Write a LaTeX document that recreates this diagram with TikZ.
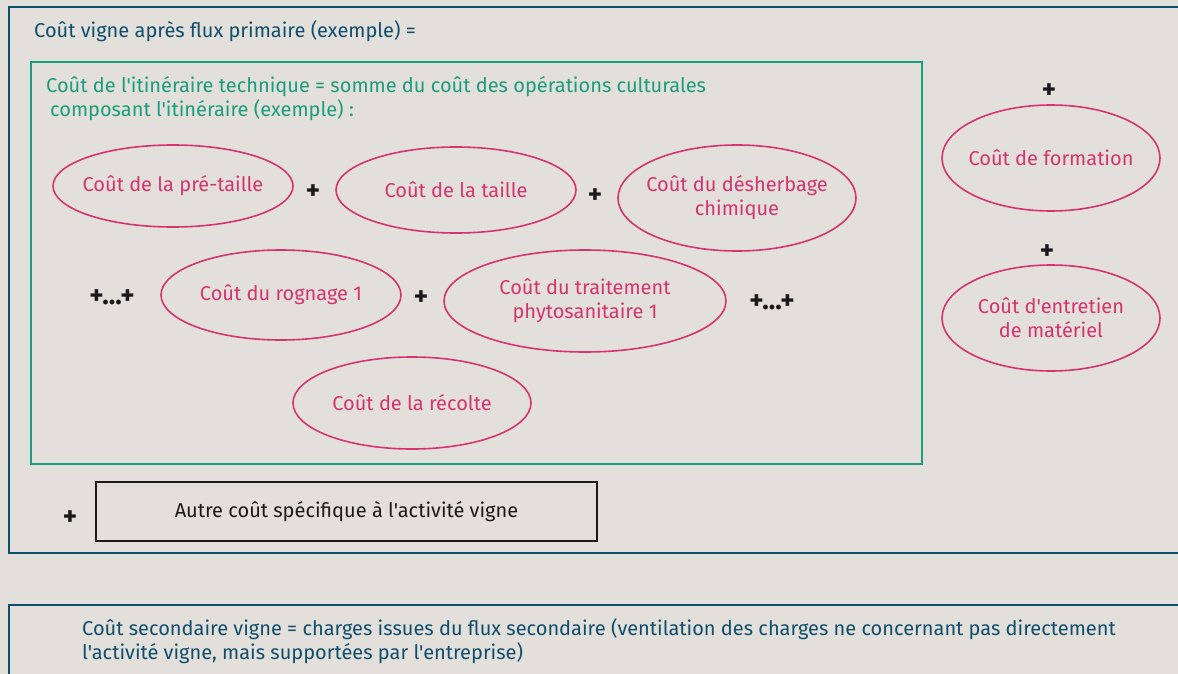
\documentclass[tikz,border=0pt]{standalone}
\usepackage{fontspec}
\setmainfont{Fira Sans}[Ligatures=TeXOff]
\usetikzlibrary{shapes.geometric}
\definecolor{bgc}{RGB}{227,223,218}
\definecolor{dblue}{RGB}{16,78,110}
\definecolor{vgreen}{RGB}{26,158,126}
\definecolor{mag}{RGB}{214,52,112}
\definecolor{ink}{RGB}{26,26,26}
\tikzset{
  cost/.style={ellipse, draw=mag, line width=1.6pt, text=mag, inner xsep=-40pt, inner ysep=-10pt, align=center},
  plus/.style={text=ink, font=\fontsize{27}{30}\selectfont\bfseries, inner sep=0pt},
  frameline/.style={draw=dblue, line width=2pt},
}
\begin{document}
\begin{tikzpicture}[x=1pt,y=-1pt, font=\fontsize{20}{24}\selectfont]
\useasboundingbox[fill=bgc] (0,0) rectangle (1178,674);
% top frame
\draw[frameline] (1178,7) -- (9,7) -- (9,553) -- (1178,553);
\node[anchor=base west, text=dblue, inner sep=0pt] (title) at (34,38) {Coût vigne après flux primaire (exemple) =};
% green frame
\draw[draw=vgreen, line width=2pt] (31,62) rectangle (922,464);
\node[anchor=base west, text=vgreen, inner sep=0pt] (itin1) at (46,92.5)
  {Coût de l'itinéraire technique = somme du coût des opérations culturales};
\node[anchor=base west, text=vgreen, inner sep=0pt] (itin2) at (50,116.5)
  {composant l'itinéraire (exemple) :};
% ellipses
\node[cost, minimum width=240, minimum height=82] (pretaille) at (173,186) {Coût de la pré-taille};
\node[cost, minimum width=240, minimum height=86] (taille) at (456,190) {Coût de la taille};
\node[cost, minimum width=238, minimum height=106] (desherb) at (737,198) {Coût du désherbage\\chimique};
\node[cost, minimum width=240, minimum height=90] (rognage) at (281,295) {Coût du rognage 1};
\node[cost, minimum width=282, minimum height=102] (traitement) at (585,301) {Coût du traitement\\phytosanitaire 1};
\node[cost, minimum width=238, minimum height=92] (recolte) at (412,403) {Coût de la récolte};
\node[cost, minimum width=218, minimum height=106] (formation) at (1051,158) {Coût de formation};
\node[cost, minimum width=218, minimum height=106] (entretien) at (1051,318) {Coût d'entretien\\de matériel};
% plus signs
\node[plus] (p1) at (313,192) {+};
\node[plus] (p2) at (595,196) {+};
\node[plus] (p3) at (112,297) {+...+};
\node[plus] (p4) at (421,298) {+};
\node[plus] (p5) at (772,302) {+...+};
\node[plus] (p6) at (1049,91) {+};
\node[plus] (p7) at (1047,252) {+};
\node[plus] (p8) at (70,518) {+};
% other cost box
\node[draw=ink, line width=2pt, text=ink, minimum width=501, minimum height=59, inner sep=0pt] (autre) at (346.5,511.5) {Autre coût spécifique à l'activité vigne};
% bottom frame
\draw[frameline] (1178,605) -- (9,605) -- (9,680);
\node[anchor=base west, text=dblue, inner sep=0pt] (second1) at (82,635)
  {Coût secondaire vigne = charges issues du flux secondaire (ventilation des charges ne concernant pas directement};
\node[anchor=base west, text=dblue, inner sep=0pt] (second2) at (82,659)
  {l'activité vigne, mais supportées par l'entreprise)};
\end{tikzpicture}
\end{document}
